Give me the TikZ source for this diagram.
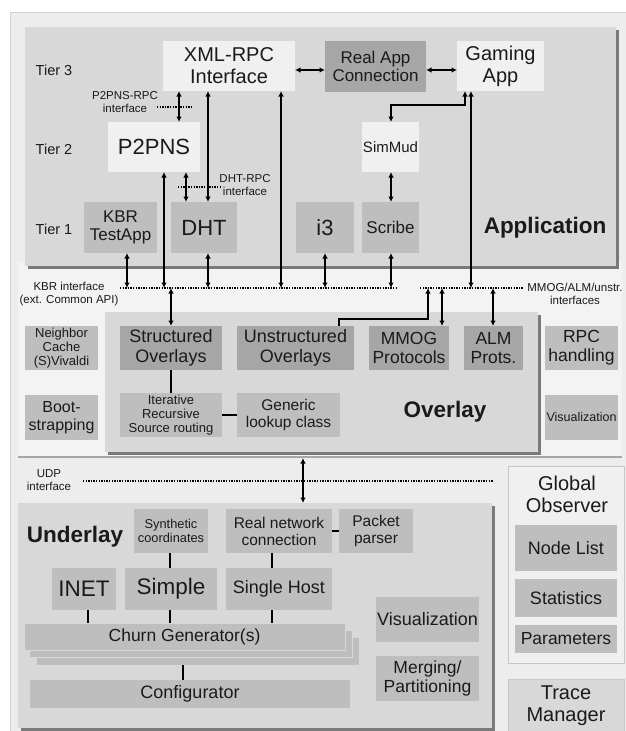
\documentclass[tikz,border=0pt]{standalone}
\usepackage{fontspec}
\setmainfont{Liberation Sans}
\usetikzlibrary{arrows.meta}
\definecolor{bgc}{HTML}{EDEDED}
\definecolor{bandc}{HTML}{F3F3F3}
\definecolor{panelc}{HTML}{D8D8D8}
\definecolor{lightc}{HTML}{F0F0F0}
\definecolor{medc}{HTML}{BEBEBE}
\definecolor{darkc}{HTML}{A6A6A6}
\definecolor{shc}{HTML}{7A7A7A}
\definecolor{txtc}{HTML}{1A1A1A}
\newcommand\fsz[1]{\fontsize{#1}{\dimexpr #1pt*11/10\relax}\selectfont}
\newcommand\bx[8]{\node[bxs, fill=#6, minimum width={(#4-#2)*1pt}, minimum height={(#5-#3)*1pt}, font=\fsz{#7}] (#1) at (#2,#3) {#8};}
\begin{document}
\begin{tikzpicture}[x=1pt,y=-1pt,
 bxs/.style={inner sep=0pt, outer sep=0pt, align=center, anchor=north west, text=txtc},
 arr/.style={line width=1.6pt, {Latex[length=5.5pt,width=5.5pt]}-{Latex[length=5.5pt,width=5.5pt]}},
 arrend/.style={line width=1.6pt, -{Latex[length=5.5pt,width=5.5pt]}},
 link/.style={line width=1.6pt},
 dotl/.style={line width=1.4pt, dash pattern=on 1.4pt off 1.2pt},
 lbl/.style={inner sep=0pt, align=center, text=txtc},
 bold/.style={lbl, font=\fsz{22.5}\bfseries}]

\useasboundingbox (0,0) rectangle (626,731);
\fill[white] (0,0) rectangle (626,731);
\fill[bgc] (10,12) rectangle (626,731);
\draw[gray!35, line width=1pt] (10,731) -- (10,12) -- (626,12);

% ---------- Overlay band (background) ----------
\fill[bandc] (18,262) rectangle (622,456);
\draw[gray!70, line width=2pt] (18,457) -- (622,457);

% ---------- Application ----------
\fill[shc] (28,30) rectangle (619,269);
\bx{apppanel}{25}{27}{616}{266}{panelc}{10}{}
\node[bold] (applbl) at (545,228) {Application};
\node[lbl, font=\fsz{14.5}] (t3) at (54,70) {Tier 3};
\node[lbl, font=\fsz{14.5}] (t2) at (54,149) {Tier 2};
\node[lbl, font=\fsz{14.5}] (t1) at (54,229) {Tier 1};

\bx{xml}{163}{41}{295}{91}{lightc}{20}{XML-RPC\\Interface}
\bx{realapp}{325}{41}{426}{92}{darkc}{17}{Real App\\Connection}
\bx{gaming}{457}{41}{544}{91}{lightc}{20}{Gaming\\App}
\bx{p2pns}{108}{122}{200}{172}{lightc}{22}{P2PNS}
\bx{simmud}{362}{122}{419}{172}{lightc}{15}{SimMud}
\bx{kbrtest}{84}{202}{157}{253}{medc}{17}{KBR\\TestApp}
\bx{dht}{171}{202}{237}{253}{medc}{22}{DHT}
\bx{ithree}{296}{202}{354}{253}{medc}{22}{i3}
\bx{scribe}{362}{202}{419}{253}{medc}{17}{Scribe}

% interface labels
\node[lbl, font=\fsz{11.5}] (p2rpc) at (125,102) {P2PNS-RPC\\interface};
\coordinate (p2L) at (157,107); \coordinate (p2R) at (193,107);
\draw[dotl] (p2L) -- (p2R);
\node[lbl, font=\fsz{11.5}] (dhtrpc) at (245,185) {DHT-RPC\\interface};
\coordinate (dhL) at (178,187); \coordinate (dhR) at (221,187);
\draw[dotl] (dhL) -- (dhR);

% KBR / MMOG interface lines
\coordinate (kbrL) at (120,288); \coordinate (kbrR) at (398,288);
\coordinate (mmL) at (420,288); \coordinate (mmR) at (523,288);
\draw[dotl] (kbrL) -- (kbrR);
\draw[dotl] (mmL) -- (mmR);
\node[lbl, font=\fsz{11.5}] (kbrlbl) at (69,294) {KBR interface\\(ext. Common API)};
\node[lbl, font=\fsz{11.5}] (mmlbl) at (575,294) {MMOG/ALM/unstr.\\interfaces};

% application arrows
\draw[arr] (xml.east |- 0,70) -- (realapp.west |- 0,70);
\draw[arr] (realapp.east |- 0,70) -- (gaming.west |- 0,70);
\draw[arr] (xml.south -| 179,0) -- (p2pns.north -| 179,0);
\draw[arr] (xml.south -| 208,0) -- (dht.north -| 208,0);
\draw[arr] (xml.south -| 281,0) -- (281,0 |- kbrL);
\draw[arr] (p2pns.south -| 186,0) -- (dht.north -| 186,0);
\draw[arr] (p2pns.south -| 164,0) -- (164,0 |- kbrL);
\draw[arr] (kbrtest.south -| 127,0) -- (127,0 |- kbrL);
\draw[arr] (dht.south -| 208,0) -- (208,0 |- kbrL);
\draw[arr] (ithree.south -| 325,0) -- (325,0 |- kbrL);
\draw[arr] (scribe.south -| 391,0) -- (391,0 |- kbrL);
\draw[arr] (simmud.south -| 391,0) -- (scribe.north -| 391,0);
\draw[arr] (gaming.south -| 471,0) -- (471,0 |- mmL);
\draw[arr] (gaming.south -| 465,0) -- ++(0,14) -| (simmud.north -| 391,0);

% ---------- Overlay ----------
\fill[shc] (108,315) rectangle (541,455);
\bx{ovpanel}{105}{312}{538}{452}{panelc}{10}{}
\node[bold] (ovlbl) at (445,412) {Overlay};

\bx{structured}{120}{326}{222}{370}{darkc}{18}{Structured\\Overlays}
\bx{unstr}{237}{326}{354}{370}{darkc}{18}{Unstructured\\Overlays}
\bx{mmog}{369}{326}{449}{370}{darkc}{17.5}{MMOG\\Protocols}
\bx{alm}{464}{326}{523}{370}{darkc}{17.5}{ALM\\Prots.}
\bx{iter}{120}{393}{222}{437}{medc}{13}{Iterative\\Recursive\\Source routing}
\bx{generic}{237}{393}{340}{437}{medc}{15.5}{Generic\\lookup class}
\bx{neighbor}{25}{326}{98}{370}{medc}{13}{Neighbor\\Cache\\(S)Vivaldi}
\bx{boot}{25}{395}{98}{440}{medc}{16}{Boot-\\strapping}
\bx{rpc}{545}{326}{618}{370}{medc}{17.5}{RPC\\handling}
\bx{visone}{545}{395}{618}{440}{medc}{12.5}{Visualization}

\draw[arr] (171,0 |- kbrL) -- (structured.north -| 171,0);
\draw[arrend] (unstr.north -| 339,0) -- ++(0,-7) -| (428,0 |- mmL);
\draw[arr] (442,0 |- mmL) -- (mmog.north -| 442,0);
\draw[arr] (493,0 |- mmL) -- (alm.north -| 493,0);
\draw[link] (structured.south -| 171,0) -- (iter.north -| 171,0);
\draw[link] (iter.east |- 0,415) -- (generic.west |- 0,415);

% ---------- UDP ----------
\node[lbl, font=\fsz{11.5}] (udplbl) at (49,480) {UDP\\interface};
\coordinate (udpL) at (83,481); \coordinate (udpR) at (493,481);
\draw[dotl] (udpL) -- (udpR);

% ---------- Underlay ----------
\fill[shc] (21,506) rectangle (495,731);
\bx{unpanel}{18}{503}{492}{728}{panelc}{10}{}
\draw[arr] (ovpanel.south -| 303,0) ++(0,6) -- (unpanel.north -| 303,0);
\node[bold] (unlbl) at (75,537) {Underlay};

\bx{synth}{134}{509}{208}{553}{medc}{12.8}{Synthetic\\coordinates}
\bx{realnet}{226}{509}{332}{553}{medc}{15.5}{Real network\\connection}
\bx{packet}{339}{509}{413}{553}{medc}{15.5}{Packet\\parser}
\bx{inet}{52}{568}{116}{610}{medc}{22.5}{INET}
\bx{simple}{125}{568}{217}{610}{medc}{22.5}{Simple}
\bx{single}{226}{568}{332}{610}{medc}{18}{Single Host}
\node[bxs, fill=medc, draw=panelc, line width=0.8pt, minimum width=323pt, minimum height=28pt] (churnc) at (36,637) {};
\node[bxs, fill=medc, draw=panelc, line width=0.8pt, minimum width=323pt, minimum height=27pt] (churnb) at (29,630) {};
\node[bxs, fill=medc, draw=panelc, line width=0.8pt, minimum width=321pt, minimum height=27pt, font=\fsz{17.5}] (churna) at (24,623) {Churn Generator(s)};
\bx{config}{30}{680}{350}{708}{medc}{18}{Configurator}
\bx{vistwo}{376}{597}{479}{642}{medc}{18}{Visualization}
\bx{merge}{376}{656}{479}{701}{medc}{17.5}{Merging/\\Partitioning}

\draw[link] (synth.south -| 170,0) -- (simple.north -| 170,0);
\draw[link] (realnet.south -| 272,0) -- (single.north -| 272,0);
\draw[link] (realnet.east |- 0,531) -- (packet.west |- 0,531);
\draw[link] (inet.south -| 88,0) -- (churna.north -| 88,0);
\draw[link] (simple.south -| 170,0) -- (churna.north -| 170,0);
\draw[link] (single.south -| 272,0) -- (churna.north -| 272,0);
\draw[link] (churnc.south -| 183,0) -- (config.north -| 183,0);

% ---------- Global Observer / Trace ----------
\node[bxs, fill=lightc, draw=gray!45, line width=1pt, minimum width=116pt, minimum height=197pt] (gobs) at (508,466) {};
\node[lbl, font=\fsz{20}] (gobslbl) at (567,494) {Global\\Observer};
\bx{nodelist}{515}{525}{617}{571}{medc}{18}{Node List}
\bx{stats}{515}{579}{617}{617}{medc}{18}{Statistics}
\bx{params}{515}{625}{617}{653}{medc}{17.5}{Parameters}
\node[bxs, fill=panelc, draw=gray!45, line width=1pt, minimum width=116pt, minimum height=54pt, font=\fsz{20}] (trace) at (508,679) {Trace\\Manager};
\end{tikzpicture}
\end{document}
